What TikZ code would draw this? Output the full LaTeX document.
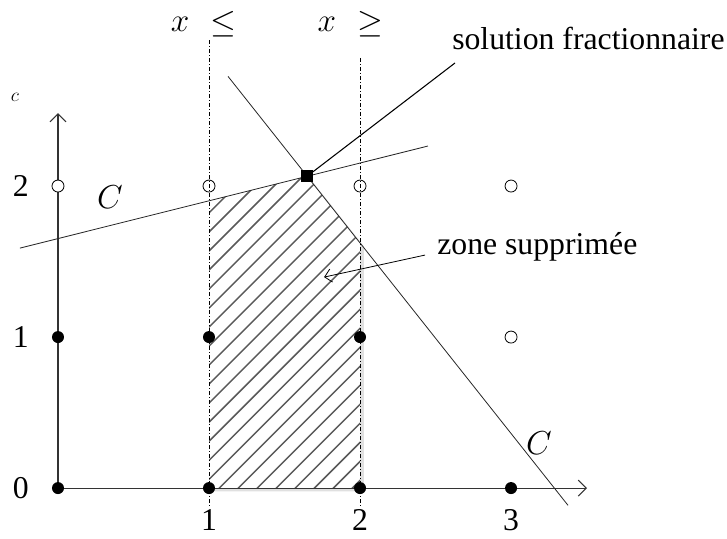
\documentclass[tikz,border=0pt]{standalone}
\usepackage{fontspec}
\setmainfont{Liberation Serif}
\usetikzlibrary{positioning, arrows.meta}

\begin{document}
\begin{tikzpicture}[
  x=113.25pt, y=113.25pt,
  txt/.style={font=\fontsize{23.8pt}{28pt}\selectfont, inner sep=0pt},
  intpt/.style={circle, fill, inner sep=0pt, minimum size=9pt},
  openpt/.style={circle, draw, fill=white, inner sep=0pt, minimum size=9pt, line width=0.6pt},
  fracpt/.style={rectangle, fill, inner sep=0pt, minimum size=9pt},
  cutline/.style={line width=0.6pt, dash pattern=on 3pt off 1.5pt on 0.75pt off 1.5pt},
  consline/.style={line width=0.6pt, black!85},
  axis/.style={line width=0.8pt, black!80, -{Straight Barb[length=6pt, width=12pt]}},
  hatch/.style={line width=1.1pt, black!65}
]

\useasboundingbox (-0.384,-0.331) rectangle (4.430,3.232);

% -------------------------
% Removed zone (shadow + hatching)
% -------------------------

\begin{scope}[shift={(0.025,-0.022)}]
  \fill[black!12] (1,0) -- (1,1.9025) -- (1.65,2.065) -- (2,1.6233) -- (2,0) -- cycle;
\end{scope}
\begin{scope}
  \clip (1,0) -- (1,1.9025) -- (1.65,2.065) -- (2,1.6233) -- (2,0) -- cycle;
  \fill[white] (0.9,-0.1) rectangle (2.1,2.2);
  \foreach \c in {-1.2,-1.074,...,2.0}
    \draw[hatch] (\c-0.2,-0.2) -- ++(2.6,2.6);
\end{scope}

% -------------------------
% Axes
% -------------------------

\coordinate (O) at (0,0);
\coordinate (ytip) at (0,2.483);
\coordinate (xtip) at (3.503,0);
\draw[axis] (O) -- (ytip);
\draw[axis] (O) -- (xtip);

% -------------------------
% Constraints C
% -------------------------

\coordinate (c1a) at (-0.252,1.589);
\coordinate (c1b) at (2.45,2.265);
\coordinate (c2a) at (1.126,2.726);
\coordinate (c2b) at (3.377,-0.114);
\draw[consline] (c1a) -- (c1b);
\draw[consline] (c2a) -- (c2b);

% -------------------------
% Integer points
% -------------------------

\foreach \i/\j in {0/0,1/0,2/0,3/0,0/1,1/1,2/1}
  \node[intpt] (p\i\j) at (\i,\j) {};
\foreach \i/\j in {0/2,1/2,2/2,3/2,3/1}
  \node[openpt] (p\i\j) at (\i,\j) {};

% -------------------------
% Branching cuts
% -------------------------

\coordinate (cut1top) at (1,2.967);
\coordinate (cut1bot) at (1,-0.132);
\coordinate (cut2top) at (2,2.848);
\coordinate (cut2bot) at (2,-0.132);
\draw[cutline] (cut1top) -- (cut1bot);
\draw[cutline] (cut2top) -- (cut2bot);

% -------------------------
% Axis labels
% -------------------------

\node[txt, left=17pt of p00] {0};
\node[txt, left=17pt of p01] {1};
\node[txt, left=17pt of p02] {2};
\node[txt, below=11pt of p10] {1};
\node[txt, below=11pt of p20] {2};
\node[txt, below=11pt of p30] {3};
\node[font=\fontsize{14pt}{16pt}\selectfont, inner sep=0pt] (ylab) at (-0.285,2.589) {$c$};

\node[txt] (x1) at (0.808,3.073) {$x$};
\node[txt] (le) at (1.093,3.073) {$\le$};
\node[txt] (x2) at (1.781,3.073) {$x$};
\node[txt] (ge) at (2.066,3.073) {$\ge$};

\node[txt] (labC1) at (0.344,1.927) {$C$};
\node[txt] (labC2) at (3.185,0.298) {$C$};

% -------------------------
% Fractional solution and annotations
% -------------------------

\node[fracpt] (S) at (1.65,2.065) {};

\node[txt, anchor=west] (sol) at (2.609,2.98) {solution fractionnaire};
\coordinate (solfoot) at (2.629,2.815);
\draw[line width=0.8pt] (solfoot) -- (S.center);

\node[txt, anchor=west] (zone) at (2.51,1.596) {zone supprimée};
\coordinate (zonetip) at (1.762,1.397);
\draw[line width=0.6pt, -{Straight Barb[length=5pt, width=10pt]}]
  ([shift={(-9pt,-6pt)}]zone.west) -- (zonetip);

\end{tikzpicture}
\end{document}
